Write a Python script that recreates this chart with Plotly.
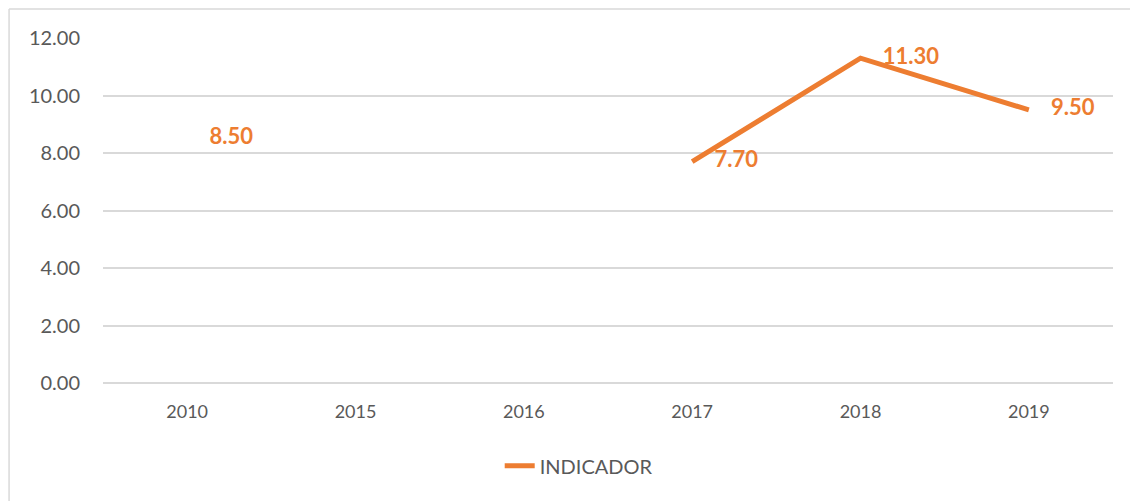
import plotly.graph_objects as go

years = ["2010", "2015", "2016", "2017", "2018", "2019"]
indicador = [8.50, None, None, 7.70, 11.30, 9.50]
y_ticks = [0, 2, 4, 6, 8, 10, 12]

orange = "#ED7D31"
grey_text = "#595959"
font_family = "Lato, Open Sans, sans-serif"

labels = [f"{v:.2f}" if v is not None else "" for v in indicador]

fig = go.Figure()
fig.add_trace(go.Scatter(
    x=years, y=indicador,
    mode="lines+markers+text",
    name="INDICADOR",
    line=dict(color=orange, width=5),
    # transparent marker only used to push the labels away from the points
    marker=dict(size=34, color="rgba(0,0,0,0)", line=dict(width=0)),
    text=labels,
    textposition="middle right",
    textfont=dict(family=font_family, size=22, color=orange, weight="bold"),
    connectgaps=False,
    cliponaxis=False,
))

# border of the chart area: only top and left edges are visible
fig.add_shape(type="line", xref="paper", yref="paper",
              x0=-0.093, x1=-0.093, y0=-0.35, y1=1.084,
              line=dict(color="#D9D9D9", width=1.5))
fig.add_shape(type="line", xref="paper", yref="paper",
              x0=-0.093, x1=1.03, y0=1.084, y1=1.084,
              line=dict(color="#D9D9D9", width=1.5))

fig.update_layout(
    width=1130, height=493,
    paper_bgcolor="white", plot_bgcolor="white",
    margin=dict(l=95, r=25, t=30, b=118),
    font=dict(family=font_family, color=grey_text, size=19),
    showlegend=True,
    legend=dict(orientation="h", x=0.471, xanchor="center", y=-0.24, yanchor="middle",
                font=dict(size=20, color=grey_text)),
    xaxis=dict(type="category", range=[-0.5, 5.5], showgrid=False, showline=False, ticks="",
               ticklabelstandoff=16, tickfont=dict(size=18, color=grey_text)),
    yaxis=dict(range=[0, 12], tickvals=y_ticks, tickformat=".2f",
               showgrid=True, gridcolor="#D9D9D9", gridwidth=1.5,
               zeroline=True, zerolinecolor="#D9D9D9", zerolinewidth=1.5,
               showline=False, ticks="", ticklabelstandoff=22,
               tickfont=dict(size=20, color=grey_text)),
)

fig.write_html("out.html")
